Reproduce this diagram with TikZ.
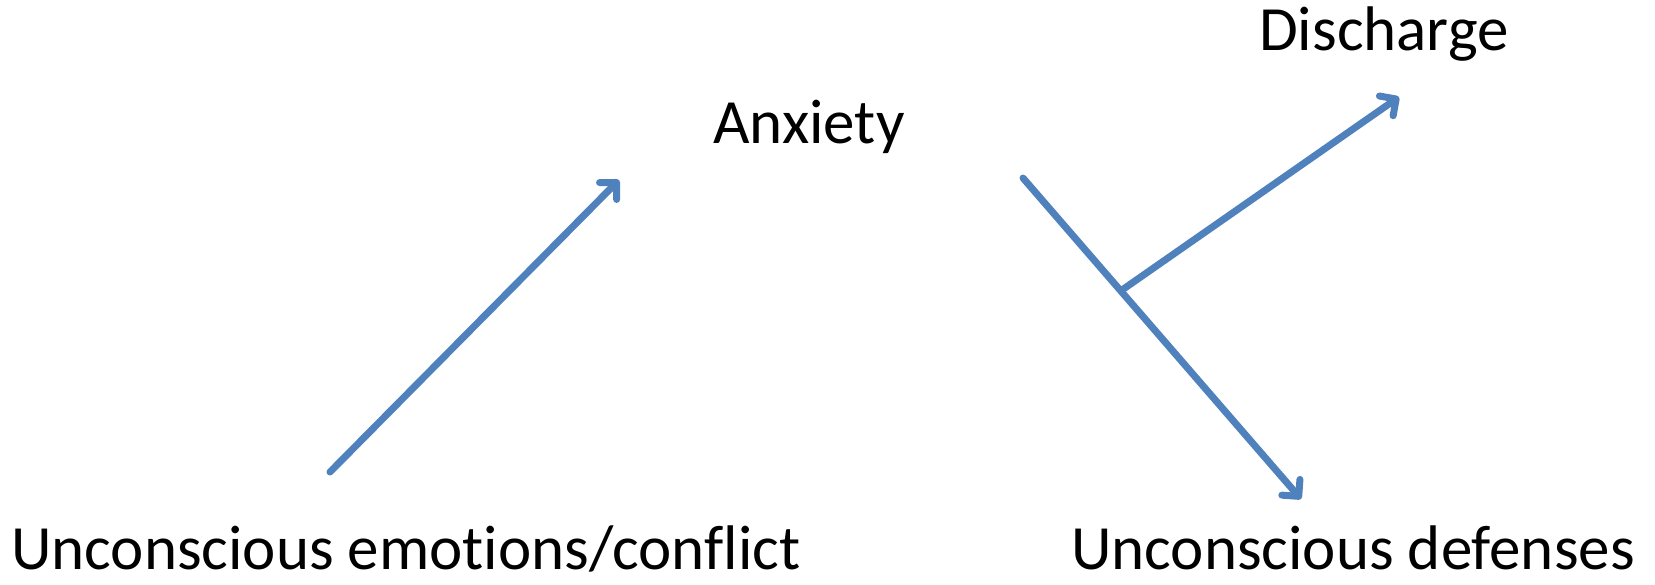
\documentclass[tikz,border=0pt]{standalone}
\usepackage{fontspec}
\setmainfont{Carlito}[Ligatures={NoCommon}]
\usetikzlibrary{arrows.meta}
\definecolor{arrowblue}{HTML}{4F81BD}
\tikzset{
  lbl/.style={anchor=base west, inner sep=0pt, font=\fontsize{63}{70}\selectfont},
  conn/.style={draw=arrowblue, line width=7pt, line cap=round},
  tip/.style={-{Straight Barb[length=12pt,width=24pt,round]}}
}
\begin{document}
\begin{tikzpicture}[x=1pt,y=-1pt]
\useasboundingbox (0,0) rectangle (1655,584);
\node[lbl] (uec) at (11,569) {Unconscious emotions/conflict};
\node[lbl] (ud) at (1071,569) {Unconscious defenses};
\node[lbl] (anx) at (713,143) {Anxiety};
\node[lbl] (dis) at (1259,50) {Discharge};
\coordinate (a1s) at (330,472);
\coordinate (a1e) at (619,180);
\coordinate (l2s) at (1023,178);
\coordinate (l2e) at (1301,499);
\coordinate (br) at (1122,290);
\coordinate (a3e) at (1399,97);
\draw[conn,tip] (a1s) -- (a1e);
\draw[conn,tip] (l2s) -- (l2e);
\draw[conn,tip] (br) -- (a3e);
\end{tikzpicture}
\end{document}
